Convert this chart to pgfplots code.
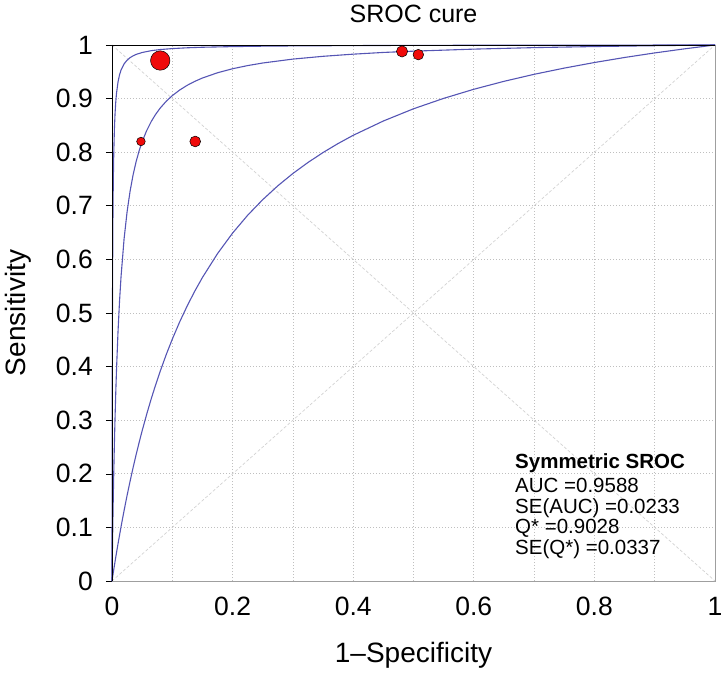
\documentclass[border=0pt]{standalone}
\usepackage{fontspec}
\setmainfont{Liberation Sans}
\usepackage{pgfplots}
\pgfplotsset{compat=1.18}
\definecolor{curve}{RGB}{85,85,180}
\definecolor{ptred}{RGB}{240,10,10}
\begin{document}
\fontsize{21}{25}\selectfont
\begin{tikzpicture}
\path[use as bounding box] (-112pt,-91pt) rectangle (616pt,581pt);
\begin{axis}[
  scale only axis, width=603pt, height=536pt,
  at={(0pt,0pt)}, anchor=south west,
  xmin=0, xmax=1, ymin=0, ymax=1,
  xtick={0,0.2,0.4,0.6,0.8,1},
  minor xtick={0.1,0.3,0.5,0.7,0.9},
  ytick={0,0.1,0.2,0.3,0.4,0.5,0.6,0.7,0.8,0.9,1},
  grid=both,
  major grid style={gray!50, dash pattern=on 1pt off 2pt, line width=0.8pt},
  minor grid style={gray!50, dash pattern=on 1pt off 2pt, line width=0.8pt},
  axis line style={gray!75, line width=0.8pt},
  tick align=outside, ytick pos=left, xtick pos=bottom,
  x tick style={draw=none}, minor tick length=0pt,
  y tick style={black, line width=0.6pt}, major tick length=6pt,
  /pgf/number format/assume math mode=true,
  ticklabel style={font=\fontsize{26.5}{30}\selectfont},
  yticklabel style={xshift=-6pt},
  xticklabel style={yshift=-3pt},
  clip=false,
]
% diagonals
\addplot[gray!35, dash pattern=on 3pt off 2pt, line width=0.7pt] coordinates {(0,0) (1,1)};
\addplot[gray!35, dash pattern=on 3pt off 2pt, line width=0.7pt] coordinates {(0,1) (1,0)};
% lower curve
\addplot[curve, line width=1.1pt] coordinates {
(0,0) (0.0005,0.00369) (0.001,0.00735) (0.002,0.01461) (0.0025,0.01821) (0.003,0.02178) (0.005,0.03585)
(0.0075,0.05296) (0.01,0.06955) (0.015,0.1013) (0.02,0.1312) (0.025,0.1595) (0.03,0.1862) (0.035,0.2116)
(0.04,0.2357) (0.045,0.2585) (0.05,0.2803) (0.058,0.3130) (0.065,0.3397) (0.072,0.3647) (0.08,0.3915)
(0.09,0.4226) (0.1,0.4512) (0.112,0.4828) (0.125,0.5139) (0.137,0.5402) (0.15,0.5663) (0.175,0.6108)
(0.2,0.6491) (0.225,0.6824) (0.25,0.7115) (0.275,0.7373) (0.3,0.7603) (0.325,0.7808) (0.35,0.7994)
(0.375,0.8162) (0.4,0.8315) (0.45,0.8582) (0.5,0.8810) (0.55,0.9004) (0.6,0.9174) (0.65,0.9322)
(0.7,0.9453) (0.75,0.9569) (0.8,0.9673) (0.85,0.9767) (0.9,0.9852) (0.95,0.9929) (1,1)};
% middle curve
\addplot[curve, line width=1.1pt] coordinates {
(0,0) (0.0001,0.00855) (0.0002,0.01696) (0.0005,0.04137) (0.001,0.07949) (0.0015,0.1147) (0.002,0.1474)
(0.003,0.2061) (0.004,0.2573) (0.005,0.3024) (0.0062,0.3499) (0.0075,0.3946) (0.01,0.4656) (0.0125,0.5220)
(0.015,0.5678) (0.02,0.6378) (0.025,0.6887) (0.03,0.7274) (0.035,0.7578) (0.04,0.7824) (0.045,0.8026)
(0.05,0.8195) (0.057,0.8391) (0.065,0.8571) (0.072,0.8700) (0.08,0.8824) (0.09,0.8951) (0.1,0.9055)
(0.112,0.9158) (0.125,0.9250) (0.137,0.9320) (0.15,0.9384) (0.175,0.9482) (0.2,0.9557) (0.225,0.9616)
(0.25,0.9664) (0.3,0.9737) (0.35,0.9789) (0.4,0.9829) (0.45,0.9861) (0.5,0.9885) (0.6,0.9923)
(0.7,0.9951) (0.8,0.9971) (0.9,0.9987) (1,1)};
% upper curve
\addplot[curve, line width=1.1pt] coordinates {
(0,0) (0.00005,0.0628) (0.0001,0.1182) (0.0002,0.2114) (0.00035,0.3193) (0.0005,0.4013) (0.0007,0.4842)
(0.001,0.5729) (0.0015,0.6681) (0.002,0.7287) (0.0025,0.7706) (0.003,0.8013) (0.004,0.8433) (0.005,0.8707)
(0.0062,0.8932) (0.0075,0.9101) (0.01,0.9312) (0.0125,0.9443) (0.015,0.9533) (0.02,0.9647) (0.025,0.9717)
(0.03,0.9764) (0.035,0.9798) (0.04,0.9824) (0.05,0.9860) (0.065,0.9894) (0.08,0.9915)
(0.1,0.9933) (0.125,0.9948) (0.15,0.9958) (0.2,0.9970) (0.25,0.9978) (0.3,0.9983)
(0.4,0.9989) (0.5,0.9993) (0.6,0.9995) (0.8,0.9998) (1,1)};
% study points
\addplot[only marks, mark=*, mark size=9.7pt, mark options={fill=ptred, draw=black, line width=0.5pt}] coordinates {(0.080,0.971)};
\addplot[only marks, mark=*, mark size=4.3pt, mark options={fill=ptred, draw=black, line width=0.5pt}] coordinates {(0.048,0.820)};
\addplot[only marks, mark=*, mark size=5.4pt, mark options={fill=ptred, draw=black, line width=0.5pt}] coordinates {(0.138,0.820)};
\addplot[only marks, mark=*, mark size=5.6pt, mark options={fill=ptred, draw=black, line width=0.5pt}] coordinates {(0.481,0.988)};
\addplot[only marks, mark=*, mark size=5.3pt, mark options={fill=ptred, draw=black, line width=0.5pt}] coordinates {(0.508,0.982)};
% frame left and top
\draw[black, line width=0.9pt] (rel axis cs:0,0) -- (rel axis cs:0,1) -- (rel axis cs:1,1);
\end{axis}
\node[font=\fontsize{25}{29}\selectfont] at (301.5pt,567pt) {SROC cure};
\node[font=\fontsize{28}{32}\selectfont] at (301.5pt,-74pt) {1–Specificity};
\node[font=\fontsize{28}{32}\selectfont, rotate=90] at (-94pt,268pt) {Sensitivity};
\begin{scope}[every node/.style={anchor=base west, inner sep=0pt, font=\fontsize{20.5}{24}\selectfont}]
\node at (403pt,112.4pt) {\bfseries Symmetric SROC};
\node at (403pt,88.4pt) {AUC =0.9588};
\node at (403pt,67.7pt) {SE(AUC) =0.0233};
\node at (403pt,47.4pt) {Q* =0.9028};
\node at (403pt,26.7pt) {SE(Q*) =0.0337};
\end{scope}
\end{tikzpicture}
\end{document}
